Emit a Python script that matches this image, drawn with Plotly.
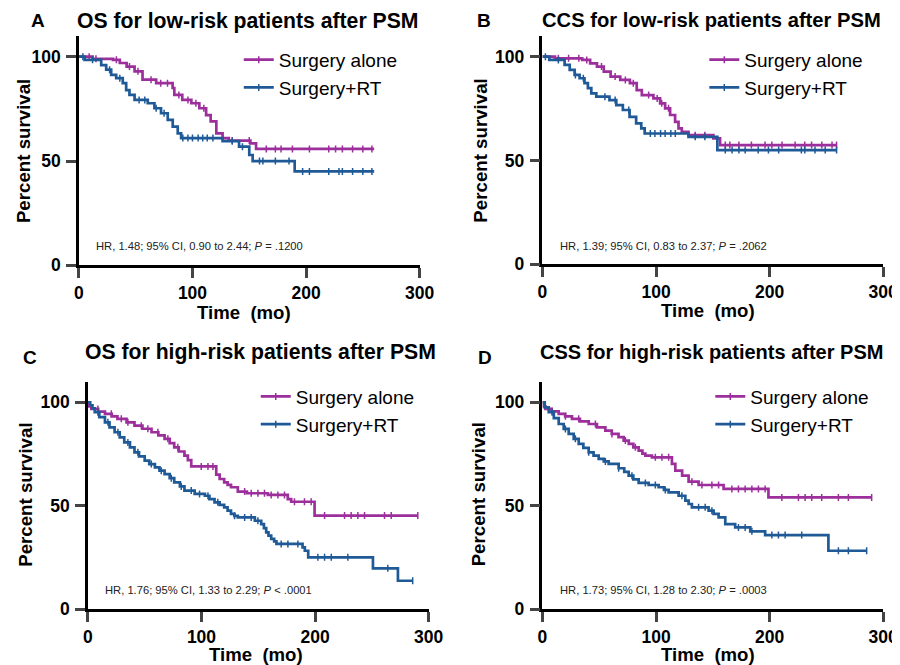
import numpy as np
import plotly.graph_objects as go

# ---------------- DATA ----------------
panel_letters = ["A", "B", "C", "D"]
panel_titles = [
    "OS for low-risk patients after PSM",
    "CCS for low-risk patients after PSM",
    "OS for high-risk patients after PSM",
    "CSS for high-risk patients after PSM",
]
hr_texts = [
    "HR, 1.48; 95% CI, 0.90 to 2.44; <i>P</i> = .1200",
    "HR, 1.39; 95% CI, 0.83 to 2.37; <i>P</i> = .2062",
    "HR, 1.76; 95% CI, 1.33 to 2.29; <i>P</i> < .0001",
    "HR, 1.73; 95% CI, 1.28 to 2.30; <i>P</i> = .0003",
]
group_names = ["Surgery alone", "Surgery+RT"]
x_ticks = [0, 100, 200, 300]
y_ticks = [0, 50, 100]

# Panel A - OS low risk
a_alone_t = [0, 12, 30, 36, 42, 49, 56, 68, 82.5, 84, 91, 99, 106, 112, 116, 121, 126.5, 132, 151, 156]
a_alone_s = [100, 99, 98.5, 97, 95.3, 93, 89, 87.3, 85, 81.7, 79.3, 77.7, 75.3, 72, 69, 63.3, 61, 59.8, 58.5, 55.8]
a_alone_end = 260
a_alone_cens = [9, 15, 33, 44.5, 52, 63.5, 72, 78, 88, 96, 103, 110, 135, 150, 165, 173, 178, 188,
                203, 220, 226, 232, 241, 250, 258]
a_rt_t = [0, 5, 19.6, 24, 28.4, 32.8, 38.6, 41.6, 44.5, 49, 60.6, 66.5, 72.3, 78.2, 82.6, 87, 90,
          126.5, 141, 150, 153, 190]
a_rt_s = [100, 98.5, 96, 93.8, 91.3, 89.7, 87.3, 84, 81.7, 79.3, 77.7, 75.3, 72.9, 69.7, 66.5, 63.3, 61,
          59.5, 56.9, 52.9, 50, 45]
a_rt_end = 260
a_rt_cens = [3.5, 12, 27, 36, 53, 58, 68, 75, 91.5, 96, 100, 105, 109, 113, 118, 135, 144, 159, 162,
             173, 185, 197, 203, 220, 229, 232, 241, 250, 258]

# Panel B - CCS low risk
b_alone_t = [0, 11, 35, 42, 48, 54, 60, 68.5, 77, 83, 87.5, 97.7, 103.6, 108, 112.4, 116.8, 119.8,
             122.7, 128.6, 150.5, 156.4]
b_alone_s = [100, 99.2, 98.4, 96.8, 95.2, 92.8, 90.4, 88.8, 87.2, 83.9, 81.5, 79.9, 77.5, 75.1, 71.9,
             68.6, 65.5, 63.8, 62.2, 60.6, 57.4]
b_alone_end = 259
b_alone_cens = [14, 23, 32, 39, 52, 64, 73, 80, 93.5, 101, 105, 111, 134.5, 143, 161, 165, 173, 184,
                196, 202, 211, 222.5, 231, 237, 246, 255, 259]
b_rt_t = [0, 6, 19.5, 24, 28.3, 32.7, 37, 40, 43, 47.4, 59, 65, 70.8, 76.7, 82.5, 87, 90, 128.6, 154]
b_rt_s = [100, 98.4, 96, 93.6, 91.2, 89.6, 87.2, 84.8, 82.3, 80.7, 79.1, 76.7, 74.3, 71, 67.9, 65.5,
          63, 61.4, 55]
b_rt_end = 259
b_rt_cens = [2.6, 14, 29, 36, 55, 64, 76, 95, 99, 104, 108, 113, 117, 134.5, 143, 161, 167, 173,
             178.5, 190, 199, 208, 228, 231, 240, 249, 259]

# Panel C - OS high risk
c_alone_t = [0, 1, 3, 9, 15, 21, 26, 34, 41, 48, 56, 62, 67.5, 72, 76, 80, 85, 88, 91, 113, 116, 120,
             123, 126, 132, 140, 158.5, 176, 179, 199.6]
c_alone_s = [100, 98, 96.8, 95.5, 94.4, 93.2, 92, 90.3, 88.7, 87.2, 85.5, 84, 82.3, 80.2, 78.2, 76.2,
             74.2, 72, 69, 65, 62.9, 61.3, 60.1, 58.9, 56.8, 56, 55.2, 53.2, 51.9, 45.2]
c_alone_end = 290.5
c_alone_cens = [8.8, 20.6, 29.4, 35.2, 47, 52.8, 61.6, 70.4, 79.2, 99.8, 105.7, 110.1, 138, 143.8,
                149.7, 155.5, 161.4, 167.3, 173.1, 181.9, 190.7, 196.6, 208.4, 226, 231.8, 237.7,
                243.6, 261.2, 267.1, 290.5]
c_rt_t = [0, 2, 4, 6, 10, 15, 19, 23.5, 28, 32, 37, 41, 45, 50, 54, 59, 63, 67.5, 72, 76, 81, 85, 94,
          103, 107, 111.5, 116, 120, 123, 126, 129, 132, 147, 152.6, 155, 157, 159, 161.4, 164, 166,
          189, 191, 194, 251, 273]
c_rt_s = [100, 98.5, 97, 95.2, 92.8, 90.3, 87.9, 85.5, 83, 80.6, 78.2, 75.8, 73.8, 71.8, 70.1, 68.5,
          66.9, 65.3, 63.3, 61.3, 59.3, 57.3, 55.7, 54.8, 53.2, 51.6, 50.4, 49.2, 47.6, 46, 45.1, 44.3,
          42.7, 41.1, 39.1, 37.1, 35.5, 33.9, 32.7, 31.5, 29.8, 28.2, 25, 19.7, 13.7]
c_rt_end = 286
c_rt_cens = [8.8, 17.6, 26.4, 35.2, 44, 55.8, 64.6, 73.4, 82.2, 91, 98.3, 105.7, 114.4, 129.1, 138,
             143.8, 149.7, 170.2, 176.1, 184.9, 202.5, 208.4, 214.3, 228.9, 264.1, 286]

# Panel D - CSS high risk
d_alone_t = [0, 1, 2.6, 8, 14.3, 20, 26, 33, 40.7, 48, 55.4, 61, 67, 71.5, 76, 80, 84.7, 88, 90.6,
             96.4, 114, 117, 123, 128.7, 137.5, 159.5, 199]
d_alone_s = [100, 98, 96.8, 95.6, 94.4, 93.2, 92, 90.8, 89.5, 87.9, 86.3, 84.7, 83.1, 81.5, 79.9,
             78.2, 76.6, 75.2, 74.2, 73.4, 70.2, 66.9, 64.5, 61.6, 60, 58.1, 54]
d_alone_end = 290
d_alone_cens = [8.5, 20.2, 31.9, 46.6, 61.2, 73, 81.8, 99.4, 105.2, 111.1, 131.6, 140.4, 149.2, 155.1,
                166.8, 172.6, 178.5, 184.4, 190.2, 196.1, 210.8, 225.4, 231.3, 237.1, 245.9, 260.6,
                269.4, 289.9]
d_rt_t = [0, 2, 5.5, 10, 14.3, 18.7, 23.1, 27.5, 31.9, 36, 40.7, 45, 49.5, 54, 58.3, 67.1, 72, 75.9,
          80, 84.7, 93.5, 102.3, 107, 111.1, 119.9, 125.8, 128.7, 131.6, 146.3, 150.7, 155.1, 161,
          169.7, 183, 196.1, 251.8]
d_rt_s = [100, 97.5, 95.2, 92.3, 89.5, 87.1, 84.7, 82.3, 79.9, 77.9, 75.8, 74.2, 72.6, 71.4, 70.2,
          68.1, 66.3, 64.5, 62.7, 61, 60, 58.9, 57.6, 56.4, 54.8, 52.4, 50.8, 49.2, 47.6, 46, 44.3,
          41.1, 39.5, 37.6, 35.8, 28.2]
d_rt_end = 285
d_rt_cens = [8.5, 20.2, 29, 40.7, 55.4, 67.1, 78.8, 90.6, 99.4, 108.2, 122.8, 137.5, 143.3, 149.2,
             172.6, 178.5, 184.4, 202, 207.8, 213.7, 228.3, 260.6, 269.4, 285.5]

panels = [
    [(a_alone_t, a_alone_s, a_alone_end, a_alone_cens), (a_rt_t, a_rt_s, a_rt_end, a_rt_cens)],
    [(b_alone_t, b_alone_s, b_alone_end, b_alone_cens), (b_rt_t, b_rt_s, b_rt_end, b_rt_cens)],
    [(c_alone_t, c_alone_s, c_alone_end, c_alone_cens), (c_rt_t, c_rt_s, c_rt_end, c_rt_cens)],
    [(d_alone_t, d_alone_s, d_alone_end, d_alone_cens), (d_rt_t, d_rt_s, d_rt_end, d_rt_cens)],
]

# ---------------- STYLE / LAYOUT ----------------
W, H = 910, 670
# measured mapping from figure pixels to captured window pixels: win = off + scale * fig
X_OFF, X_SCALE = 12.0, 0.979
Y_OFF, Y_SCALE = 8.2, 0.983
COLORS = ["#9c2f9b", "#1f5a97"]
FONT = "Liberation Sans, Arial, sans-serif"

# plot-area boxes in window pixels: (x_left, x_right, y_bottom(0%), y_top(110%))
boxes = [
    (78, 419, 265, 36),
    (542, 883, 264, 36),
    (87, 428, 608, 381),
    (542, 883, 608, 381),
]
letter_pos = [(37, 21), (483, 21), (29, 357), (484, 357)]
title_pos = [(247, 21), (711, 20), (260, 351), (711, 351)]
title_sizes = [21.2, 20.2, 21.2, 20.0]
hr_pos = [(93, 246), (558, 246), (102, 589), (558, 589)]
ytitle_pos = [(22, 151), (480, 151), (25, 494), (478, 494)]
xtitle_pos = [(243, 312), (708, 310), (255, 653), (708, 653)]
legend_pos = [(238, 41), (704, 41), (255, 377), (710, 377)]


def px(x):
    return ((x - X_OFF) / X_SCALE) / W


def py(y):
    return 1 - ((y - Y_OFF) / Y_SCALE) / H


fig = go.Figure()
layout = dict(
    width=W, height=H,
    margin=dict(l=0, r=0, t=0, b=0),
    paper_bgcolor="white", plot_bgcolor="white",
    font=dict(family=FONT, color="black"),
    annotations=[],
)

for i, series in enumerate(panels):
    k = "" if i == 0 else str(i + 1)
    xa, ya = "x" + k, "y" + k
    lg = "legend" + k
    xl, xr, yb, yt = boxes[i]
    layout["xaxis" + k] = dict(
        domain=[px(xl), px(xr)], range=[0, 300], anchor=ya,
        tickvals=x_ticks, ticks="outside", ticklen=10, tickwidth=2.5, ticklabelstandoff=0,
        showline=True, linewidth=2.5, linecolor="black", showgrid=False, zeroline=False,
        tickfont=dict(family=FONT, size=17.5, weight="bold", color="black"),
    )
    layout["yaxis" + k] = dict(
        domain=[py(yb), py(yt)], range=[0, 110], anchor=xa,
        tickvals=y_ticks, ticks="outside", ticklen=10, tickwidth=2.5, ticklabelstandoff=2,
        showline=True, linewidth=2.5, linecolor="black", showgrid=False, zeroline=False,
        tickfont=dict(family=FONT, size=17.5, weight="bold", color="black"),
    )
    lx, ly = legend_pos[i]
    layout[lg] = dict(
        x=px(lx), y=py(ly), xanchor="left", yanchor="top",
        bgcolor="rgba(0,0,0,0)", borderwidth=0, tracegroupgap=0,
        font=dict(family=FONT, size=19, color="black"),
        itemwidth=30,
    )

    for g, (t, s, tend, cens) in enumerate(series):
        tt = np.array(t + [tend], dtype=float)
        ss = np.array(s + [s[-1]], dtype=float)
        fig.add_trace(go.Scatter(
            x=tt, y=ss, mode="lines", line=dict(color=COLORS[g], width=2.7, shape="hv"),
            xaxis=xa, yaxis=ya, showlegend=False, hoverinfo="skip",
        ))
        c = np.array(cens, dtype=float)
        idx = np.searchsorted(np.array(t, dtype=float), c, side="right") - 1
        cy = np.array(s, dtype=float)[idx]
        fig.add_trace(go.Scatter(
            x=c, y=cy, mode="markers",
            marker=dict(symbol="line-ns", size=5, line=dict(color=COLORS[g], width=1.5)),
            xaxis=xa, yaxis=ya, showlegend=False, hoverinfo="skip",
        ))
        fig.add_trace(go.Scatter(
            x=[None], y=[None], mode="lines+markers", name=group_names[g],
            line=dict(color=COLORS[g], width=2.7),
            marker=dict(symbol="line-ns", size=5, line=dict(color=COLORS[g], width=1.5)),
            xaxis=xa, yaxis=ya, legend=lg, legendgroup="g%d_%d" % (i, g),
        ))

    ann = layout["annotations"]
    x0, y0 = letter_pos[i]
    ann.append(dict(x=px(x0), y=py(y0), xref="paper", yref="paper", text="<b>%s</b>" % panel_letters[i],
                    showarrow=False, font=dict(family=FONT, size=19, color="black"),
                    xanchor="center", yanchor="middle"))
    x0, y0 = title_pos[i]
    ann.append(dict(x=px(x0), y=py(y0), xref="paper", yref="paper", text="<b>%s</b>" % panel_titles[i],
                    showarrow=False, font=dict(family=FONT, size=title_sizes[i], color="black"),
                    xanchor="center", yanchor="middle"))
    x0, y0 = hr_pos[i]
    ann.append(dict(x=px(x0), y=py(y0), xref="paper", yref="paper", text=hr_texts[i],
                    showarrow=False, font=dict(family=FONT, size=11.2, color="#222"),
                    xanchor="left", yanchor="middle"))
    x0, y0 = ytitle_pos[i]
    ann.append(dict(x=px(x0), y=py(y0), xref="paper", yref="paper", text="<b>Percent survival</b>",
                    showarrow=False, textangle=-90, font=dict(family=FONT, size=18.7, color="black"),
                    xanchor="center", yanchor="middle"))
    x0, y0 = xtitle_pos[i]
    ann.append(dict(x=px(x0), y=py(y0), xref="paper", yref="paper", text="<b>Time\u00a0\u00a0(mo)</b>",
                    showarrow=False, font=dict(family=FONT, size=18.6, color="black"),
                    xanchor="center", yanchor="middle"))

fig.update_layout(**layout)
fig.write_html("out.html")
